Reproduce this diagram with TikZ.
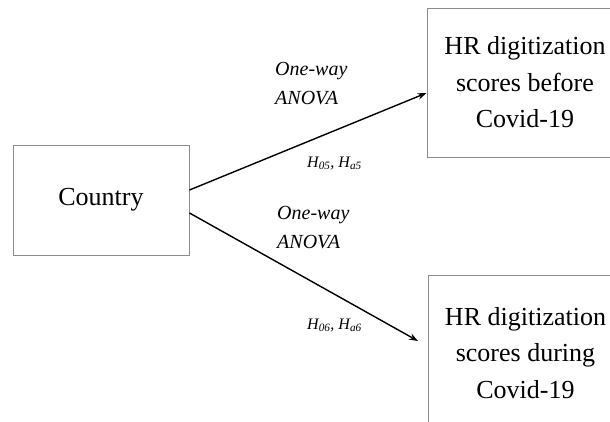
\documentclass[tikz,border=0pt]{standalone}
\usepackage{fontspec}
\setmainfont{Liberation Serif}
\usetikzlibrary{arrows.meta,calc}

\begin{document}
\begin{tikzpicture}[x=1pt,y=-1pt,
  box/.style={draw=black!45, line width=1pt, inner sep=0pt, align=center,
              font=\fontsize{26}{36.5}\selectfont},
  lbl/.style={inner sep=0pt, align=left, font=\fontsize{20}{29.5}\selectfont\itshape},
  hyp/.style={inner sep=0pt, font=\fontsize{16}{18}\selectfont\itshape},
  arr/.style={line width=1.4pt, -{Stealth[length=9pt,width=6.5pt]}}]
  \useasboundingbox (0,0) rectangle (610,421);
  \clip (0,0) rectangle (610,421);

  % boxes
  \node[box, minimum width=176pt, minimum height=110pt] (country) at (101,200) {Country};
  \node[box, minimum width=196pt, minimum height=149pt] (before) at (525,82.5)
    {HR digitization\\scores before\\Covid-19};
  \node[box, minimum width=195pt, minimum height=156pt] (during) at (525.5,353)
    {HR digitization\\scores during\\Covid-19};

  % connectors
  \coordinate (tipdur) at (418,341);
  \draw[arr] ([yshift=10pt]country.east) -- ([yshift=-10.5pt]before.west);
  \draw[arr] ([yshift=-13pt]country.east) -- (tipdur);

  % edge labels
  \node[lbl, anchor=north west] (anovaA) at (275,62) {One-way\\ANOVA};
  \node[hyp, anchor=base west] (hypA) at (307,167) {H\textsubscript{05}, H\textsubscript{a5}};
  \node[lbl, anchor=north west] (anovaB) at (277,206) {One-way\\ANOVA};
  \node[hyp, anchor=base west] (hypB) at (307,329) {H\textsubscript{06}, H\textsubscript{a6}};
\end{tikzpicture}
\end{document}
